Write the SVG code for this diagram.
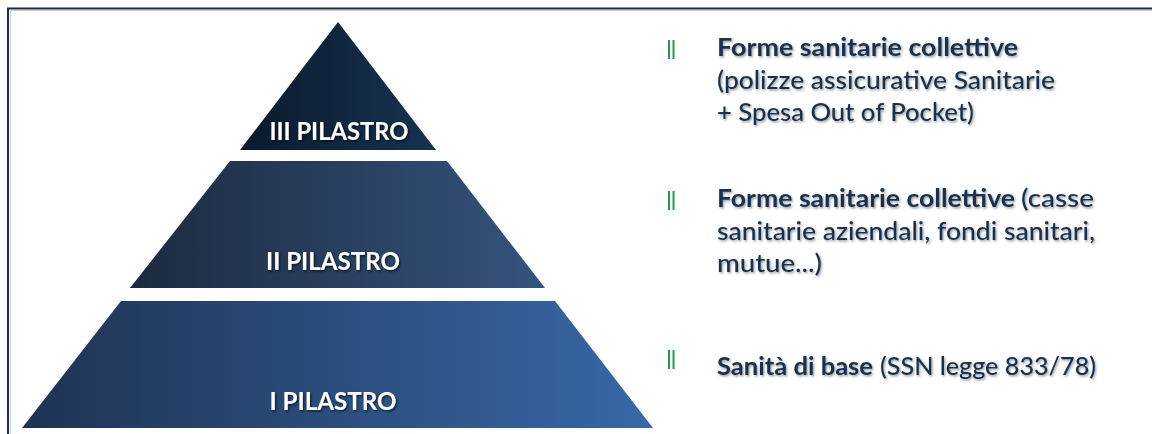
<svg xmlns="http://www.w3.org/2000/svg" width="1152" height="434" viewBox="0 0 1152 434">
  <defs>
    <linearGradient id="gIII" x1="0" y1="0" x2="1" y2="0">
      <stop offset="0" stop-color="#0b1a2c"/>
      <stop offset="1" stop-color="#163352"/>
    </linearGradient>
    <linearGradient id="gII" x1="0" y1="0" x2="1" y2="0">
      <stop offset="0" stop-color="#1c2a40"/>
      <stop offset="1" stop-color="#35547d"/>
    </linearGradient>
    <linearGradient id="gI" x1="0" y1="0" x2="1" y2="0">
      <stop offset="0" stop-color="#1e3352"/>
      <stop offset="1" stop-color="#3868a8"/>
    </linearGradient>
    <filter id="shadowLight" x="-5%" y="-20%" width="110%" height="150%">
      <feDropShadow dx="1.2" dy="1.5" stdDeviation="0.9" flood-color="#000" flood-opacity="0.4"/>
    </filter>
    <filter id="shadowDark" x="-5%" y="-20%" width="110%" height="150%">
      <feDropShadow dx="1.2" dy="1.5" stdDeviation="1" flood-color="#000" flood-opacity="0.6"/>
    </filter>
    <style>
      .lvl { font-family: Lato, "Open Sans", "Liberation Sans", sans-serif; font-weight: 700; font-size: 25px; fill: #ffffff; filter: url(#shadowDark); }
      .desc { font-family: Lato, "Open Sans", "Liberation Sans", sans-serif; font-weight: 500; font-size: 24.5px; fill: #16324f; filter: url(#shadowLight); }
      .b { font-weight: 700; }
      .bullet { stroke: #1f9e48; stroke-width: 2; }
    </style>
  </defs>

  <rect width="1152" height="434" fill="#ffffff"/>

  <!-- frame -->
  <g id="frame">
    <path d="M10.5 440 V10.5 H1160" fill="none" stroke="#c9d3e0" stroke-width="1.2"/>
    <path d="M8 440 V8.5 H1160" fill="none" stroke="#1d2c44" stroke-width="2"/>
  </g>

  <!-- pyramid levels -->
  <g id="level-III">
    <polygon points="338,22 436,150 240,150" fill="url(#gIII)"/>
    <text class="lvl" x="339" y="140" text-anchor="middle" textLength="139" lengthAdjust="spacingAndGlyphs">III PILASTRO</text>
  </g>
  <g id="level-II">
    <polygon points="230,161 447,161 545,288 130,288" fill="url(#gII)"/>
    <text class="lvl" x="333" y="270" text-anchor="middle" textLength="134" lengthAdjust="spacingAndGlyphs">II PILASTRO</text>
  </g>
  <g id="level-I">
    <polygon points="121,301 555,301 653,428 22,428" fill="url(#gI)"/>
    <text class="lvl" x="333" y="410" text-anchor="middle" textLength="127" lengthAdjust="spacingAndGlyphs">I PILASTRO</text>
  </g>

  <!-- descriptions -->
  <g id="desc-III">
    <line class="bullet" x1="669" y1="40" x2="669" y2="59"/>
    <line class="bullet" x1="673.5" y1="40" x2="673.5" y2="59"/>
    <text class="desc b" x="717" y="56" textLength="301" lengthAdjust="spacingAndGlyphs">Forme sanitarie collettive</text>
    <text class="desc" x="717" y="88.5" textLength="338" lengthAdjust="spacingAndGlyphs">(polizze assicurative Sanitarie</text>
    <text class="desc" x="717" y="121" textLength="257" lengthAdjust="spacingAndGlyphs">+ Spesa Out of Pocket)</text>
  </g>
  <g id="desc-II">
    <line class="bullet" x1="669" y1="191" x2="669" y2="210"/>
    <line class="bullet" x1="673.5" y1="191" x2="673.5" y2="210"/>
    <text class="desc b" x="717" y="207" textLength="298" lengthAdjust="spacingAndGlyphs">Forme sanitarie collettive</text>
    <text class="desc" x="1021" y="207" textLength="73" lengthAdjust="spacingAndGlyphs">(casse</text>
    <text class="desc" x="717" y="239.5" textLength="378" lengthAdjust="spacingAndGlyphs">sanitarie aziendali, fondi sanitari,</text>
    <text class="desc" x="717" y="272" textLength="105" lengthAdjust="spacingAndGlyphs">mutue...)</text>
  </g>
  <g id="desc-I">
    <line class="bullet" x1="669" y1="350" x2="669" y2="369"/>
    <line class="bullet" x1="673.5" y1="350" x2="673.5" y2="369"/>
    <text class="desc b" x="717" y="375" textLength="156" lengthAdjust="spacingAndGlyphs">Sanità di base</text>
    <text class="desc" x="880" y="375" textLength="216" lengthAdjust="spacingAndGlyphs">(SSN legge 833/78)</text>
  </g>
</svg>
